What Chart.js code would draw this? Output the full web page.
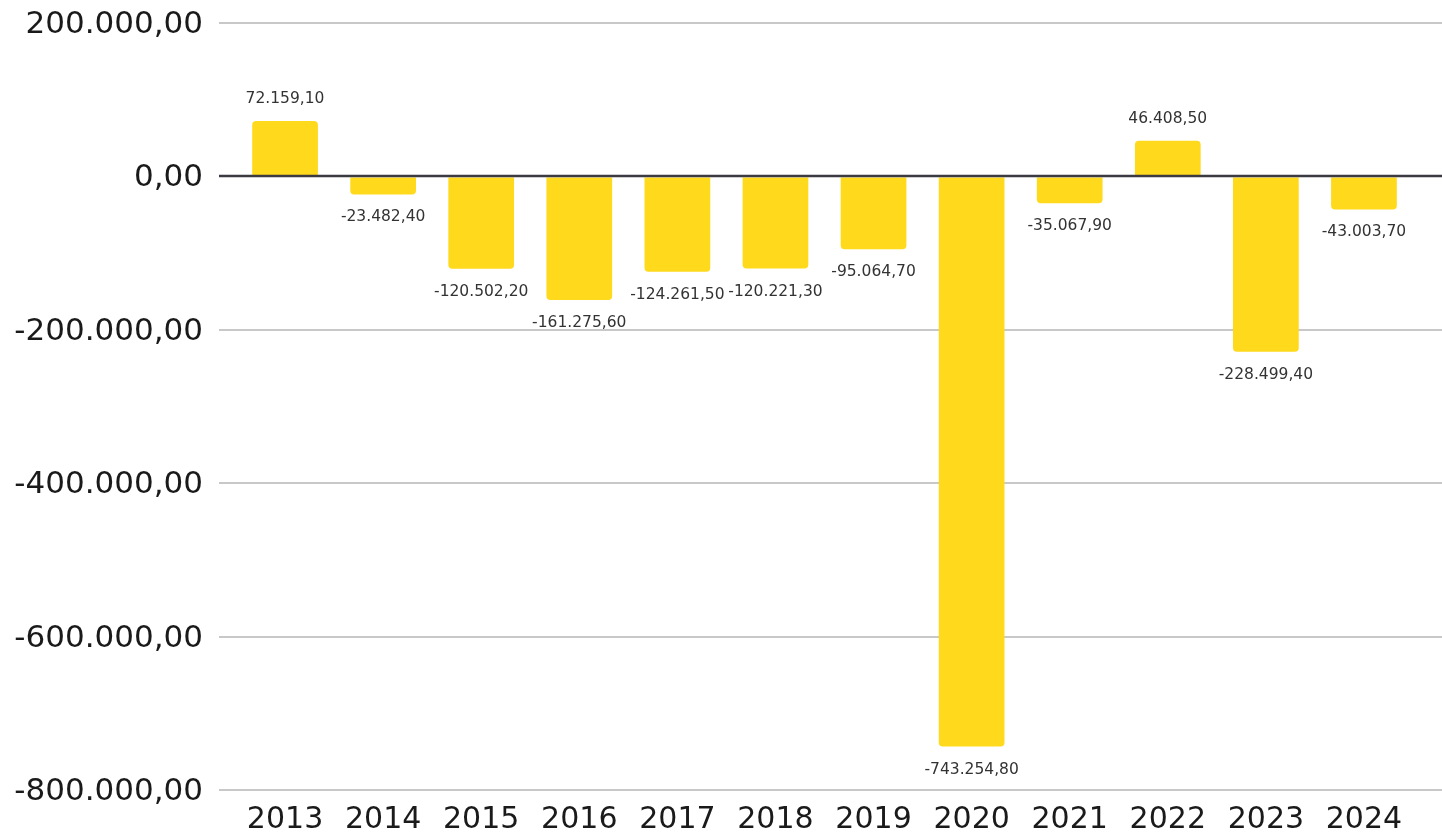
<!DOCTYPE html>
<html>
<head>
<meta charset="utf-8">
<script src="https://cdn.jsdelivr.net/npm/chart.js@4"></script>
<style>
html,body{margin:0;padding:0;background:#fff;}
#wrap{width:1442px;height:833px;position:relative;}
</style>
</head>
<body>
<div id="wrap"><canvas id="c"></canvas></div>
<script>
const categories = ['2013','2014','2015','2016','2017','2018','2019','2020','2021','2022','2023','2024'];
const values = [72159.10, -23482.40, -120502.20, -161275.60, -124261.50, -120221.30, -95064.70, -743254.80, -35067.90, 46408.50, -228499.40, -43003.70];
const yTickValues = [200000, 0, -200000, -400000, -600000, -800000];

function fmt(v){
  const neg = v < 0;
  const s = Math.abs(v).toFixed(2);
  let [i, d] = s.split('.');
  i = i.replace(/\B(?=(\d{3})+(?!\d))/g, '.');
  return (neg ? '-' : '') + i + ',' + d;
}

const FONT = "'DejaVu Sans', Verdana, sans-serif";
const TICK_LEN = 17;

const gridExtend = {
  id: 'gridExtend',
  beforeDatasetsDraw(chart){
    const ctx = chart.ctx, y = chart.scales.y, a = chart.chartArea;
    ctx.save();
    ctx.strokeStyle = '#c8c8c8';
    ctx.lineWidth = 2;
    yTickValues.forEach(v => {
      if (v === 0) return;
      const py = Math.round(y.getPixelForValue(v));
      ctx.beginPath();
      ctx.moveTo(a.right, py);
      ctx.lineTo(chart.width, py);
      ctx.stroke();
    });
    ctx.restore();
  },
  afterDatasetsDraw(chart){
    const ctx = chart.ctx, y = chart.scales.y, a = chart.chartArea;
    const py = Math.round(y.getPixelForValue(0));
    ctx.save();
    ctx.strokeStyle = '#3a3a40';
    ctx.lineWidth = 2.5;
    ctx.beginPath();
    ctx.moveTo(a.left - TICK_LEN, py);
    ctx.lineTo(chart.width, py);
    ctx.stroke();
    // data labels
    const meta = chart.getDatasetMeta(0);
    ctx.font = '15.5px ' + FONT;
    ctx.fillStyle = '#333';
    ctx.textAlign = 'center';
    ctx.textBaseline = 'middle';
    meta.data.forEach((bar, i) => {
      const v = values[i];
      const ly = v >= 0 ? bar.y - 22 : bar.y + 23;
      ctx.fillText(fmt(v), bar.x, ly);
    });
    ctx.restore();
  }
};

new Chart(document.getElementById('c'), {
  type: 'bar',
  data: {
    labels: categories,
    datasets: [{
      data: values,
      backgroundColor: '#FFD91C',
      borderRadius: 4,
      borderSkipped: 'start',
      categoryPercentage: 1,
      barPercentage: 0.67
    }]
  },
  options: {
    responsive: true,
    maintainAspectRatio: false,
    animation: false,
    layout: { padding: { top: 23, right: 29, bottom: 0, left: 0 } },
    plugins: { legend: { display: false }, tooltip: { enabled: false } },
    scales: {
      x: {
        afterFit(scale){ scale.height = 43; },
        grid: { display: false, drawTicks: false },
        border: { display: false },
        ticks: { font: { family: FONT, size: 30 }, color: '#1a1a1a', padding: 12, maxRotation: 0 }
      },
      y: {
        min: -800000,
        max: 200000,
        afterBuildTicks(scale){ scale.ticks = yTickValues.map(v => ({ value: v })); },
        afterFit(scale){ scale.width = 236; scale.paddingTop = 0; scale.paddingBottom = 0; },
        border: { display: false },
        grid: {
          color: ctx => (ctx.tick && ctx.tick.value === 0) ? 'rgba(0,0,0,0)' : '#c8c8c8',
          lineWidth: 2,
          drawTicks: true,
          tickLength: TICK_LEN
        },
        ticks: {
          font: { family: FONT, size: 31 },
          color: '#1a1a1a',
          padding: 16,
          labelOffset: 2,
          callback: v => fmt(v)
        }
      }
    }
  },
  plugins: [gridExtend]
});
</script>
</body>
</html>
